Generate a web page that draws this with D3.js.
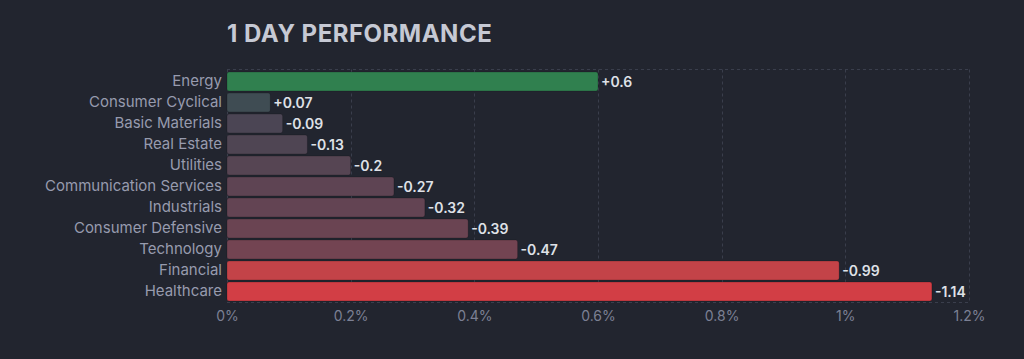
<!DOCTYPE html>
<html>
<head>
<meta charset="utf-8">
<script src="https://cdn.jsdelivr.net/npm/d3@7"></script>
<style>
  html, body { margin: 0; padding: 0; background: #22252f; }
  svg { display: block; }
  text { font-family: Inter, "Noto Sans", sans-serif; }
</style>
</head>
<body>
<svg id="chart" width="1024" height="359"></svg>
<script>
const title = "1 DAY PERFORMANCE";
const sectors = ["Energy", "Consumer Cyclical", "Basic Materials", "Real Estate", "Utilities",
  "Communication Services", "Industrials", "Consumer Defensive", "Technology", "Financial", "Healthcare"];
const changes = [0.6, 0.07, -0.09, -0.13, -0.2, -0.27, -0.32, -0.39, -0.47, -0.99, -1.14];
const tickValues = [0, 0.2, 0.4, 0.6, 0.8, 1, 1.2];
const tickLabels = ["0%", "0.2%", "0.4%", "0.6%", "0.8%", "1%", "1.2%"];

const W = 1024, H = 359;
const margin = { left: 227, right: 55, top: 70, bottom: 57 };
const svg = d3.select("#chart");
svg.append("rect").attr("width", W).attr("height", H).attr("fill", "#22252f");

const x = d3.scaleLinear().domain([0, 1.2]).range([margin.left, W - margin.right]);
const y = d3.scaleBand().domain(sectors).range([margin.top + 1, H - margin.bottom]).paddingInner(0.1).paddingOuter(0.05);

const negColor = d3.scaleLinear().domain([0, -0.5, -1, -1.2])
  .range(["#414554", "#764452", "#c54348", "#d83c44"]).clamp(true);
const posColor = d3.scaleLinear().domain([0, 0.6]).range(["#414554", "#30804f"]).clamp(true);
const color = v => v >= 0 ? posColor(v) : negColor(v);

// grid
const grid = svg.append("g").attr("stroke", "#3a3e4c").attr("stroke-dasharray", "3,3").attr("stroke-width", 1);
grid.selectAll("line.v").data(tickValues).join("line")
  .attr("x1", d => Math.round(x(d)) + 0.5).attr("x2", d => Math.round(x(d)) + 0.5)
  .attr("y1", margin.top - 0.5).attr("y2", H - margin.bottom + 0.5);
grid.append("line").attr("x1", x(0)).attr("x2", x(1.2)).attr("y1", margin.top - 0.5).attr("y2", margin.top - 0.5);
grid.append("line").attr("x1", x(0)).attr("x2", x(1.2)).attr("y1", H - margin.bottom + 0.5).attr("y2", H - margin.bottom + 0.5);

// title
svg.append("text").attr("x", margin.left).attr("y", 42)
  .attr("fill", "#c6c9d4").attr("font-size", 24).attr("font-weight", 700)
  .attr("letter-spacing", 0.5)
  .text(title);

// bars
const rows = sectors.map((s, i) => ({ s, v: changes[i] }));
svg.append("g").selectAll("rect").data(rows).join("rect")
  .attr("x", x(0))
  .attr("y", d => y(d.s))
  .attr("width", d => x(Math.abs(d.v)) - x(0))
  .attr("height", y.bandwidth())
  .attr("rx", 2)
  .attr("fill", d => color(d.v))
  .attr("stroke", "rgba(0,0,0,0.18)").attr("stroke-width", 1);

// value labels
svg.append("g").selectAll("text").data(rows).join("text")
  .attr("x", d => x(Math.abs(d.v)) + 3)
  .attr("y", d => y(d.s) + y.bandwidth() / 2)
  .attr("dy", "0.36em")
  .attr("fill", "#dfe1e7").attr("font-size", 14).attr("font-weight", 600)
  .text(d => (d.v > 0 ? "+" : "") + d.v);

// category axis
const yAxis = d3.axisLeft(y).tickSize(0).tickPadding(5);
const gy = svg.append("g").attr("transform", `translate(${margin.left},0)`).call(yAxis);
gy.select(".domain").remove();
gy.selectAll("text").attr("fill", "#979bae").attr("font-size", 15).attr("font-family", "Inter, sans-serif");

// x axis
const xAxis = d3.axisBottom(x).tickValues(tickValues).tickFormat((d, i) => tickLabels[i]).tickSize(0).tickPadding(9);
const gx = svg.append("g").attr("transform", `translate(0,${H - margin.bottom})`).call(xAxis);
gx.select(".domain").remove();
gx.selectAll("text").attr("fill", "#7c8094").attr("font-size", 14).attr("font-family", "Inter, sans-serif");
</script>
</body>
</html>
